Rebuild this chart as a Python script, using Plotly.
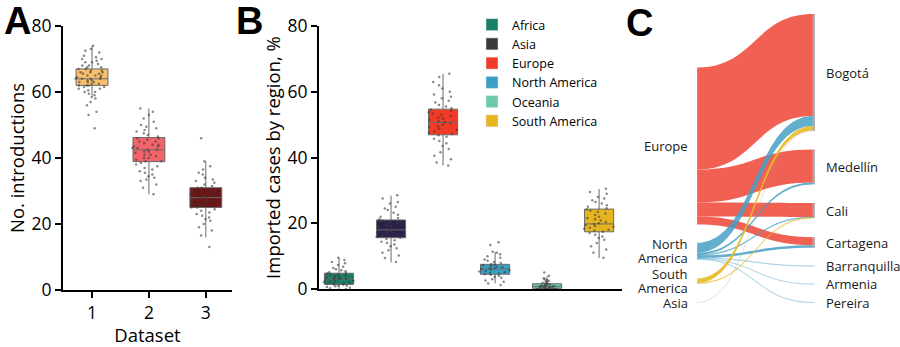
import plotly.graph_objects as go

W, H = 900, 347
FONT = "Open Sans"

# ---------------- Panel A data ----------------
datasets = [1, 2, 3]
a_colors = ["#F8BF6C", "#F3646A", "#6A1616"]
a_q1 = [62.0, 38.9, 25.0]
a_median = [64.0, 42.5, 28.0]
a_q3 = [67.0, 46.2, 31.0]
a_lower = [58.9, 29.0, 16.0]
a_upper = [73.9, 55.0, 39.0]
a_points_1 = [74, 73, 72.5, 72, 71, 70.5, 70, 70, 69.5, 69, 69, 68.5, 68, 68, 67.5, 67.5,
              67, 67, 66.5, 66.5, 66, 66, 66, 65.5, 65.5, 65, 65, 65, 64.5, 64.5, 64, 64,
              64, 64, 63.5, 63.5, 63, 63, 63, 62.5, 62.5, 62, 62, 62, 61.5, 61.5, 61, 61,
              60.5, 60, 60, 59.5, 59, 58.5, 58, 57, 56, 54, 53, 49]
a_points_2 = [55, 54, 53, 52, 51, 50, 49.5, 49, 48.5, 48, 47.5, 47, 46.5, 46, 46, 45.5, 45,
              45, 44.5, 44, 44, 43.5, 43.5, 43, 43, 42.5, 42.5, 42, 42, 41.5, 41, 41, 40.5,
              40, 40, 39.5, 39, 39, 38.5, 38, 37.5, 37, 36.5, 36, 35.5, 35, 34.5, 34, 33.5,
              33, 32, 31, 29]
a_points_3 = [46, 39, 37.5, 36.5, 35.5, 35, 34, 33.5, 33, 32.5, 32, 31.5, 31, 31, 30.5, 30,
              30, 29.5, 29, 29, 28.5, 28.5, 28, 28, 27.5, 27.5, 27, 27, 26.5, 26, 26, 25.5,
              25.5, 25, 25, 24.5, 24, 23.5, 23, 22.5, 22, 21.5, 21, 20, 19, 18, 16.5, 13]
a_points = [a_points_1, a_points_2, a_points_3]

# ---------------- Panel B data ----------------
regions = ["Africa", "Asia", "Europe", "North America", "Oceania", "South America"]
region_pos = [1, 2, 3, 4, 5, 6]
b_colors = ["#1A7D66", "#2B2149", "#F23A26", "#3A9FC4", "#6CC9AA", "#E6B41E"]
legend_colors = ["#1A7D66", "#3A3A3A", "#F23A26", "#3A9FC4", "#6CC9AA", "#E6B41E"]
b_q1 = [1.4, 15.6, 46.9, 4.5, 0.2, 17.4]
b_median = [3.0, 18.0, 50.7, 6.1, 0.8, 19.8]
b_q3 = [4.8, 21.0, 54.7, 7.5, 1.6, 24.3]
b_lower = [0.0, 8.1, 37.6, 1.7, 0.0, 9.4]
b_upper = [9.5, 28.4, 65.5, 11.3, 4.0, 30.4]
b_pts_africa = [9.5, 8.8, 8.2, 7.8, 7.3, 6.8, 6.4, 6, 5.7, 5.4, 5.1, 4.9, 4.7, 4.5, 4.3, 4.1,
                3.9, 3.7, 3.5, 3.4, 3.2, 3.1, 3, 2.9, 2.7, 2.6, 2.4, 2.3, 2.1, 2, 1.8, 1.7,
                1.5, 1.4, 1.3, 1.1, 1, 0.8, 0.6, 0.4, 0.2, 0]
b_pts_asia = [28.5, 27.5, 26.5, 26, 25, 24.5, 24, 23.2, 22.6, 22, 21.6, 21.2, 20.8, 20.4, 20,
              19.6, 19.2, 18.8, 18.5, 18.2, 18, 17.7, 17.4, 17.1, 16.8, 16.5, 16.2, 15.9,
              15.6, 15.2, 14.8, 14.4, 14, 13.5, 13, 12.4, 11.8, 11, 10.2, 9.4, 8.2]
b_pts_europe = [65.5, 64.5, 63, 62, 61, 60, 59.2, 58.5, 58, 57.3, 56.7, 56, 55.5, 55, 54.6,
                54.2, 53.8, 53.4, 53, 52.6, 52.2, 51.8, 51.4, 51, 50.7, 50.4, 50, 49.6, 49.2,
                48.8, 48.4, 48, 47.6, 47.2, 46.8, 46.3, 45.7, 45, 44.3, 43.5, 42.6, 41.6,
                40.5, 39.5, 38.5, 37.6]
b_pts_namerica = [14.2, 13.4, 11.3, 11, 10.6, 10, 9.5, 9, 8.6, 8.2, 7.9, 7.6, 7.4, 7.2, 7,
                  6.8, 6.6, 6.4, 6.2, 6.1, 5.9, 5.7, 5.5, 5.3, 5.1, 4.9, 4.7, 4.5, 4.3, 4,
                  3.7, 3.4, 3, 2.6, 2.2, 1.7, 1.2]
b_pts_oceania = [5, 4, 3.3, 3, 2.7, 2.5, 2.3, 2.1, 1.9, 1.7, 1.5, 1.4, 1.3, 1.2, 1.1, 1, 0.9,
                 0.8, 0.7, 0.6, 0.5, 0.5, 0.4, 0.3, 0.3, 0.2, 0.1, 0.1, 0, 0, 0, 0]
b_pts_samerica = [30.5, 29.5, 29, 28, 27.5, 27, 26.5, 26, 25.5, 25, 24.6, 24.2, 23.8, 23.4,
                  23, 22.5, 22, 21.6, 21.2, 20.8, 20.4, 20, 19.8, 19.5, 19.2, 18.9, 18.6,
                  18.3, 18, 17.7, 17.4, 17, 16.5, 16, 15.5, 15, 14, 13, 12, 11, 9.5]
b_points = [b_pts_africa, b_pts_asia, b_pts_europe, b_pts_namerica, b_pts_oceania, b_pts_samerica]

# ---------------- Panel C data ----------------
sk_nodes = ["Europe", "North America", "South America", "Asia",
            "Bogotá", "Medellín", "Cali", "Cartagena", "Barranquilla", "Armenia", "Pereira"]
sk_node_col = [0, 0, 0, 0, 1, 1, 1, 1, 1, 1, 1]
sk_node_center_px = [146, 251, 281, 302.5, 72.5, 167, 210.5, 242.5, 266, 284, 302.5]
sk_source = [0, 0, 0, 0, 1, 1, 1, 1, 1, 1, 1, 2, 2, 3]
sk_target = [4, 5, 6, 7, 4, 5, 6, 7, 8, 9, 10, 4, 6, 4]
sk_value = [102, 33, 14, 8, 10, 2, 0.6, 2.6, 0.5, 0.4, 0.4, 4.5, 0.5, 0.4]
sk_link_color = ["rgba(240,84,68,0.92)"] * 4 + \
    ["rgba(70,160,196,0.85)", "rgba(70,160,196,0.85)", "rgba(70,160,196,0.5)",
     "rgba(70,160,196,0.85)", "rgba(70,160,196,0.25)", "rgba(70,160,196,0.22)",
     "rgba(70,160,196,0.22)"] + \
    ["rgba(232,186,40,0.9)", "rgba(232,186,40,0.45)", "rgba(160,160,160,0.15)"]

fig = go.Figure()

# Panel A boxes
for i, d in enumerate(datasets):
    fig.add_trace(go.Box(
        x=[d], q1=[a_q1[i]], median=[a_median[i]], q3=[a_q3[i]],
        lowerfence=[a_lower[i]], upperfence=[a_upper[i]], orientation="v",
        width=0.56, fillcolor=a_colors[i], line=dict(color="#6a6a6a", width=1),
        whiskerwidth=0, boxpoints=False, showlegend=False, hoverinfo="skip",
        xaxis="x", yaxis="y"))
for i, d in enumerate(datasets):
    fig.add_trace(go.Box(
        x=[d] * len(a_points[i]), y=a_points[i], orientation="v",
        boxpoints="all", jitter=1, pointpos=0, width=0.62,
        fillcolor="rgba(0,0,0,0)", line=dict(color="rgba(0,0,0,0)", width=0),
        marker=dict(color="rgba(60,60,60,0.6)", size=2.5),
        showlegend=False, hoverinfo="skip", xaxis="x", yaxis="y"))

# Panel B boxes
for i, p in enumerate(region_pos):
    fig.add_trace(go.Box(
        x=[p], q1=[b_q1[i]], median=[b_median[i]], q3=[b_q3[i]],
        lowerfence=[b_lower[i]], upperfence=[b_upper[i]], orientation="v",
        width=0.56, fillcolor=b_colors[i], line=dict(color="#6a6a6a", width=1),
        whiskerwidth=0, boxpoints=False, showlegend=False, hoverinfo="skip",
        xaxis="x2", yaxis="y2"))
for i, p in enumerate(region_pos):
    fig.add_trace(go.Box(
        x=[p] * len(b_points[i]), y=b_points[i], orientation="v",
        boxpoints="all", jitter=1, pointpos=0, width=0.62,
        fillcolor="rgba(0,0,0,0)", line=dict(color="rgba(0,0,0,0)", width=0),
        marker=dict(color="rgba(60,60,60,0.6)", size=2.5),
        showlegend=False, hoverinfo="skip", xaxis="x2", yaxis="y2"))

# Legend entries for panel B
for i, r in enumerate(regions):
    fig.add_trace(go.Bar(x=[None], y=[None], name=r, marker_color=legend_colors[i],
                         xaxis="x2", yaxis="y2", showlegend=True))

# Panel C sankey
sk_dom_x_px = [696, 814]
sk_dom_y_px = [12, 305]
sk_h = sk_dom_y_px[1] - sk_dom_y_px[0]
right_total = sum(sk_value)
n_right = sk_node_col.count(1)
pad = (sk_h - right_total) / (n_right - 1)
node_x = [0.001 if c == 0 else 0.999 for c in sk_node_col]
node_y = [(c - sk_dom_y_px[0]) / sk_h for c in sk_node_center_px]
node_colors = ["rgba(0,0,0,0)" if c == 0 else "#A8A8A8" for c in sk_node_col]

fig.add_trace(go.Sankey(
    arrangement="fixed",
    domain=dict(x=[sk_dom_x_px[0] / W, sk_dom_x_px[1] / W],
                y=[1 - sk_dom_y_px[1] / H, 1 - sk_dom_y_px[0] / H]),
    node=dict(label=[""] * len(sk_nodes), x=node_x, y=node_y, pad=pad, thickness=2,
              color=node_colors, line=dict(width=0)),
    link=dict(source=sk_source, target=sk_target, value=sk_value, color=sk_link_color),
    hoverinfo="skip"))

annotations = []
# Sankey labels tied to node positions
for name, col, cy in zip(sk_nodes, sk_node_col, sk_node_center_px):
    words = name.split(" ") if col == 0 and " " in name else [name]
    n = len(words)
    for k, w in enumerate(words):
        ypx = cy + (k - (n - 1) / 2) * 13.5
        if col == 0:
            annotations.append(dict(x=(sk_dom_x_px[0] - 6) / W, y=1 - ypx / H, xref="paper",
                                    yref="paper", text=w, showarrow=False, xanchor="right",
                                    yanchor="middle", font=dict(family=FONT, size=13, color="#1a1a1a")))
        else:
            annotations.append(dict(x=(sk_dom_x_px[1] + 10) / W, y=1 - ypx / H, xref="paper",
                                    yref="paper", text=w, showarrow=False, xanchor="left",
                                    yanchor="middle", font=dict(family=FONT, size=13, color="#1a1a1a")))

# Panel letters
for letter, xc, yc in [("A", 17.5, 21), ("B", 249, 20.5), ("C", 639, 23)]:
    annotations.append(dict(x=xc / W, y=1 - yc / H, xref="paper", yref="paper",
                            text="<b>%s</b>" % letter, showarrow=False, xanchor="center",
                            yanchor="middle",
                            font=dict(family="Liberation Sans", size=38, color="black")))

axis_common = dict(showline=True, linecolor="black", linewidth=2, showgrid=False,
                   zeroline=False, automargin=False,
                   tickfont=dict(family=FONT, size=17.5, color="black"))
ydom = [1 - 290 / H, 1 - 26 / H]

fig.update_layout(
    width=W, height=H, margin=dict(l=0, r=0, t=0, b=0, pad=0, autoexpand=False),
    paper_bgcolor="white", plot_bgcolor="white",
    boxmode="overlay", barmode="overlay",
    xaxis=dict(domain=[63 / W, 232 / W], range=[0.49, 3.46], tickvals=datasets,
               ticks="outside", ticklen=6, tickwidth=2, tickcolor="black",
               title=dict(text="Dataset", font=dict(family=FONT, size=18.5, color="black"),
                          standoff=1),
               anchor="y", **axis_common),
    yaxis=dict(domain=ydom, range=[0, 80], dtick=20, ticks="outside", ticklen=6,
               tickwidth=2, tickcolor="black",
               title=dict(text="No. introductions", font=dict(family=FONT, size=18.5, color="black"),
                          standoff=2),
               anchor="x", **axis_common),
    xaxis2=dict(domain=[319 / W, 622 / W], range=[0.615, 6.44], showticklabels=False,
                ticks="", anchor="y2", **axis_common),
    yaxis2=dict(domain=[1 - 289 / H, 1 - 26 / H], range=[0, 80], dtick=20, ticks="outside",
                ticklen=6, tickwidth=2, tickcolor="black",
                title=dict(text="Imported cases by region, %",
                           font=dict(family=FONT, size=18.5, color="black"), standoff=2),
                anchor="x2", **axis_common),
    legend=dict(x=472 / W, y=1 - 10 / H, xanchor="left", yanchor="top",
                font=dict(family=FONT, size=12.5, color="black"), bgcolor="rgba(0,0,0,0)",
                traceorder="normal", itemclick=False),
    annotations=annotations,
)

fig.write_html("out.html")
